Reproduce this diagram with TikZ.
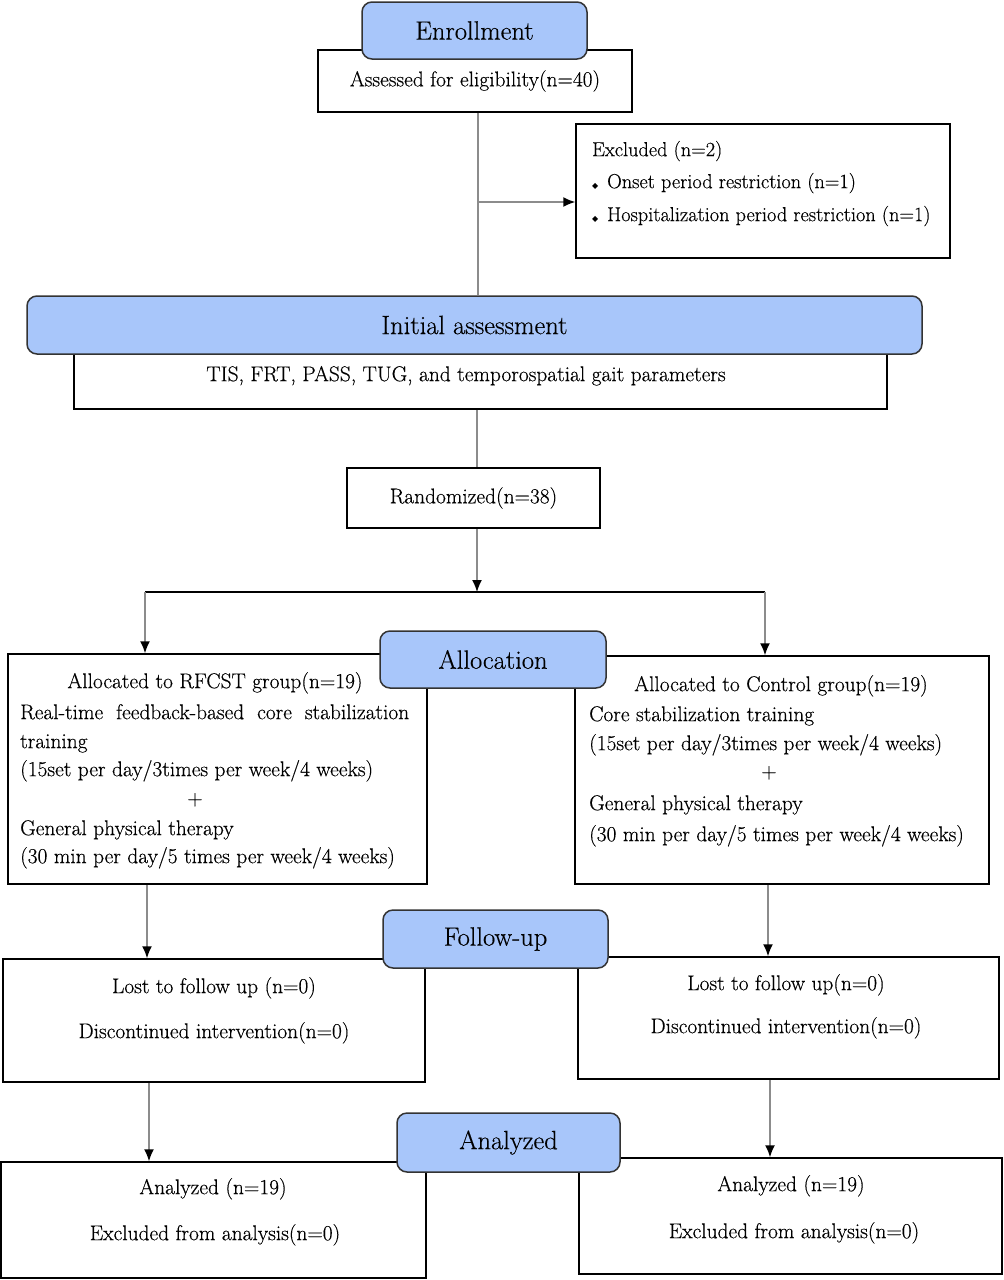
\documentclass[tikz,border=0pt]{standalone}
\usepackage{fontspec}
\setmainfont{Latin Modern Roman}[FakeBold=0.35]
\newfontfamily\dejavu{DejaVu Sans}
\usetikzlibrary{arrows.meta,calc}
\definecolor{hdrblue}{RGB}{168,198,250}
\definecolor{conngray}{RGB}{140,140,140}
\begin{document}
\begin{tikzpicture}[x=1pt,y=-1pt,
  wbox/.style={draw=black,line width=1.5pt,fill=white,rectangle,inner sep=0pt,font=\fontsize{21.4}{25}\selectfont},
  hdr/.style={draw=black!80,line width=1.5pt,fill=hdrblue,rounded corners=10pt,inner sep=0pt,font=\fontsize{26.5}{30}\selectfont},
  txt/.style={inner sep=0pt,font=\fontsize{21.4}{25}\selectfont},
  extxt/.style={inner sep=0pt,font=\fontsize{20.3}{24}\selectfont},
  conn/.style={draw=conngray,line width=1.5pt},
  arr/.style={conn,-{Latex[length=12pt,width=10pt,color=black]}},
]
\useasboundingbox (0,0) rectangle (1004,1280);

% ---------- white boxes ----------
\node[wbox,minimum width=314pt,minimum height=62pt] (assess) at (475,81) {Assessed for eligibility(n=40)};
\node[wbox,minimum width=374pt,minimum height=134pt] (excl) at (763,191) {};
\node[wbox,minimum width=813pt,minimum height=55pt] (initbox) at (480.5,381.5) {};
\node[wbox,minimum width=253pt,minimum height=60pt] (rand) at (473.5,498) {Randomized(n=38)};
\node[wbox,minimum width=419pt,minimum height=230pt] (rf) at (217.5,769) {};
\node[wbox,minimum width=414pt,minimum height=228pt] (ctrl) at (782,770) {};
\node[wbox,minimum width=422pt,minimum height=123pt] (fl) at (214,1020.5) {};
\node[wbox,minimum width=421pt,minimum height=122pt] (fr) at (788.5,1018) {};
\node[wbox,minimum width=425pt,minimum height=116pt] (al) at (213.5,1220) {};
\node[wbox,minimum width=423pt,minimum height=116pt] (ar) at (790.5,1216) {};

% ---------- headers ----------
\node[hdr,minimum width=225pt,minimum height=57pt] (enroll) at (474.5,30.5) {Enrollment};
\node[hdr,minimum width=895pt,minimum height=58pt] (initblue) at (474.5,325) {Initial assessment};
\node[hdr,minimum width=226pt,minimum height=57pt] (alloc) at (493,659.5) {Allocation};
\node[hdr,minimum width=225pt,minimum height=58pt] (follow) at (495.5,939) {Follow-up};
\node[hdr,minimum width=223pt,minimum height=59pt] (anal) at (508.5,1142.5) {Analyzed};

% ---------- texts ----------
\node[extxt,anchor=mid west] (ex1) at (592,154) {Excluded (n=2)};
\node[extxt,anchor=mid west] (ex2) at (592,186) {\makebox[15pt][l]{\dejavu\fontsize{8}{8}\selectfont ◆}Onset period restriction (n=1)};
\node[extxt,anchor=mid west] (ex3) at (592,219) {\makebox[15pt][l]{\dejavu\fontsize{8}{8}\selectfont ◆}Hospitalization period restriction (n=1)};

\node[txt,anchor=mid] (initT) at (466,379) {TIS, FRT, PASS, TUG, and temporospatial gait parameters};

\node[txt,anchor=mid] (rf1) at (215,686) {Allocated to RFCST group(n=19)};
\node[txt,anchor=mid west] (rf2) at (20,717) {\makebox[389pt][s]{Real-time feedback-based core stabilization}};
\node[txt,anchor=mid west] (rf3) at (20,746) {training};
\node[txt,anchor=mid west] (rf4) at (20,774) {(15set per day/3times per week/4 weeks)};
\node[txt,anchor=mid] (rf5) at (195,803) {+};
\node[txt,anchor=mid west] (rf6) at (20,833) {General physical therapy};
\node[txt,anchor=mid west] (rf7) at (20,861) {(30 min per day/5 times per week/4 weeks)};

\node[txt,anchor=mid] (ct1) at (781,689) {Allocated to Control group(n=19)};
\node[txt,anchor=mid west] (ct2) at (589,719) {Core stabilization training};
\node[txt,anchor=mid west] (ct3) at (589,748) {(15set per day/3times per week/4 weeks)};
\node[txt,anchor=mid] (ct4) at (769,776) {+};
\node[txt,anchor=mid west] (ct5) at (589,808) {General physical therapy};
\node[txt,anchor=mid west] (ct6) at (589,839) {(30 min per day/5 times per week/4 weeks)};

\node[txt,anchor=mid] (fl1) at (214,991) {Lost to follow up (n=0)};
\node[txt,anchor=mid] (fl2) at (214,1036) {Discontinued intervention(n=0)};
\node[txt,anchor=mid] (fr1) at (786,988) {Lost to follow up(n=0)};
\node[txt,anchor=mid] (fr2) at (786,1031) {Discontinued intervention(n=0)};

\node[txt,anchor=mid] (al1) at (213,1192) {Analyzed (n=19)};
\node[txt,anchor=mid] (al2) at (215,1238) {Excluded from analysis(n=0)};
\node[txt,anchor=mid] (ar1) at (791,1189) {Analyzed (n=19)};
\node[txt,anchor=mid] (ar2) at (794,1236) {Excluded from analysis(n=0)};

% ---------- connectors ----------
\coordinate (sx) at (478,0);
\coordinate (exjoin) at (478,202);
\coordinate (sx2) at (477,0);
\coordinate (split) at (477,592);
\coordinate (splitL) at (145,592);
\coordinate (splitR) at (765,592);
\coordinate (lx1) at (147,0);
\coordinate (rx1) at (768,0);
\coordinate (lx2) at (149,0);
\coordinate (rx2) at (770,0);

\draw[conn] (assess.south -| sx) -- (initblue.north -| sx);
\draw[arr] (exjoin) -- (exjoin -| excl.west);
\draw[conn] (initbox.south -| sx2) -- (rand.north -| sx2);
\draw[arr] (rand.south -| sx2) -- (split);
\draw[black,line width=1.5pt] (splitL) -- (splitR);
\draw[arr] (splitL) -- (splitL |- rf.north);
\draw[arr] (splitR) -- (splitR |- ctrl.north);
\draw[arr] (rf.south -| lx1) -- (fl.north -| lx1);
\draw[arr] (ctrl.south -| rx1) -- (fr.north -| rx1);
\draw[arr] (fl.south -| lx2) -- (al.north -| lx2);
\draw[arr] (fr.south -| rx2) -- (ar.north -| rx2);
\end{tikzpicture}
\end{document}
